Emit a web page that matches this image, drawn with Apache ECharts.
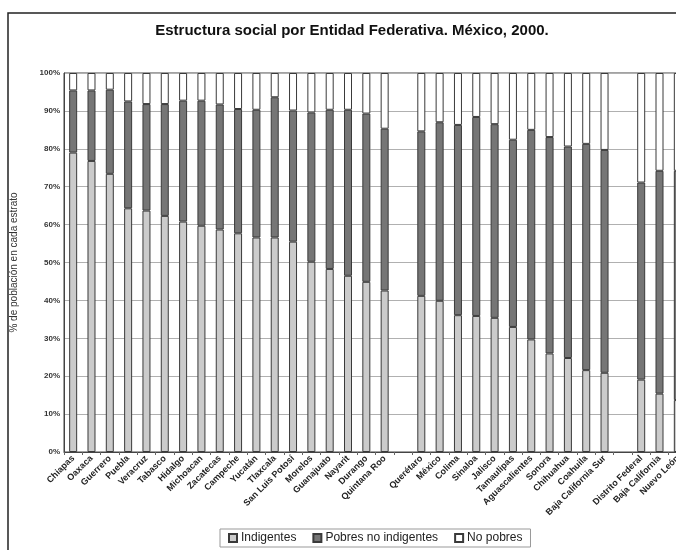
<!DOCTYPE html>
<html>
<head>
<meta charset="utf-8">
<script src="https://cdn.jsdelivr.net/npm/echarts@6/dist/echarts.min.js"></script>
<style>
html,body{margin:0;padding:0;background:#fff;}
#chart{width:676px;height:550px;}
</style>
</head>
<body>
<div id="chart"></div>
<script>
var categories = ['Chiapas','Oaxaca','Guerrero','Puebla','Veracruz','Tabasco','Hidalgo','Michoacan','Zacatecas','Campeche','Yucatán','Tlaxcala','San Luis Potosí','Morelos','Guanajuato','Nayarit','Durango','Quintana Roo','','Querétaro','México','Colima','Sinaloa','Jalisco','Tamaulipas','Aguascalientes','Sonora','Chihuahua','Coahuila','Baja California Sur','','Distrito Federal','Baja California','Nuevo León'];
var indigentes = [79.0,76.8,73.4,64.3,63.7,62.3,60.8,59.7,58.7,57.7,56.6,56.6,55.5,50.2,48.3,46.5,44.9,42.6,'-',41.2,39.9,36.1,35.9,35.4,33.0,29.7,26.0,24.8,21.6,20.9,'-',19.1,15.4,13.7];
var pobresNoIndigentes = [16.4,18.6,22.2,28.2,28.1,29.5,31.9,33.0,33.0,32.8,33.7,37.0,34.6,39.4,42.0,43.8,44.4,42.7,'-',43.4,47.1,50.2,52.5,51.1,49.4,55.3,57.1,55.8,59.7,58.8,'-',52.0,58.8,60.5];
var noPobres = [4.6,4.6,4.4,7.5,8.2,8.2,7.3,7.3,8.3,9.5,9.7,6.4,9.9,10.4,9.7,9.7,10.7,14.7,'-',15.4,13.0,13.7,11.6,13.5,17.6,15.0,16.9,19.4,18.7,20.3,'-',28.9,25.8,25.8];
var yTicks = [0,10,20,30,40,50,60,70,80,90,100];

var FONT = '"Liberation Sans", Arial, sans-serif';
var chart = echarts.init(document.getElementById('chart'));
function mk(name, data, color) {
  return {
    name: name, type: 'bar', stack: 'total', data: data, barWidth: 8,
    itemStyle: { color: color, borderColor: '#3a3a3a', borderWidth: 1 }
  };
}
chart.setOption({
  animation: false,
  backgroundColor: '#fff',
  title: {
    text: 'Estructura social por Entidad Federativa. México, 2000.',
    left: 347, top: 18, textAlign: 'center',
    textStyle: { fontFamily: FONT, fontSize: 15, fontWeight: 'bold', color: '#111' }
  },
  graphic: [{
    type: 'rect', shape: { x: 8, y: 13, width: 720, height: 580 },
    style: { fill: 'none', stroke: '#222', lineWidth: 1.5 }, silent: true
  }],
  legend: {
    left: 220, top: 529, width: 330,
    itemWidth: 8, itemHeight: 8, itemGap: 16,
    padding: [3, 8, 3, 8],
    borderColor: '#999', borderWidth: 1,
    icon: 'rect',
    textStyle: { fontFamily: FONT, fontSize: 12, color: '#222', padding: [0,0,0,-1] },
    data: ['Indigentes', 'Pobres no indigentes', 'No pobres']
  },
  grid: { left: 64, width: 623, top: 73, bottom: 98, outerBoundsMode: 'none', containLabel: false, show: true, borderColor: '#444', borderWidth: 1 },
  xAxis: {
    type: 'category', data: categories,
    axisLine: { lineStyle: { color: '#444', width: 1 } },
    axisTick: { show: true, length: 3, lineStyle: { color: '#666' } },
    axisLabel: { rotate: 45, interval: 0, fontFamily: FONT, fontSize: 9, fontWeight: 'bold', color: '#222', margin: 5 }
  },
  yAxis: {
    type: 'value', min: 0, max: 100, interval: 10,
    name: '% de población en cada estrato', nameLocation: 'middle', nameGap: 45, nameRotate: 90,
    nameTextStyle: { fontFamily: FONT, fontSize: 10, color: '#333' },
    axisLine: { show: true, lineStyle: { color: '#444' } },
    axisTick: { show: false },
    axisLabel: { formatter: function(v){ return yTicks.indexOf(v) >= 0 ? v + '%' : ''; }, fontFamily: FONT, fontSize: 8, fontWeight: 'bold', color: '#333', margin: 4 },
    splitLine: { lineStyle: { color: '#b0b0b0', width: 1 } }
  },
  series: [
    mk('Indigentes', indigentes, '#cbcbcb'),
    mk('Pobres no indigentes', pobresNoIndigentes, '#767676'),
    mk('No pobres', noPobres, '#ffffff')
  ]
});
</script>
</body>
</html>
